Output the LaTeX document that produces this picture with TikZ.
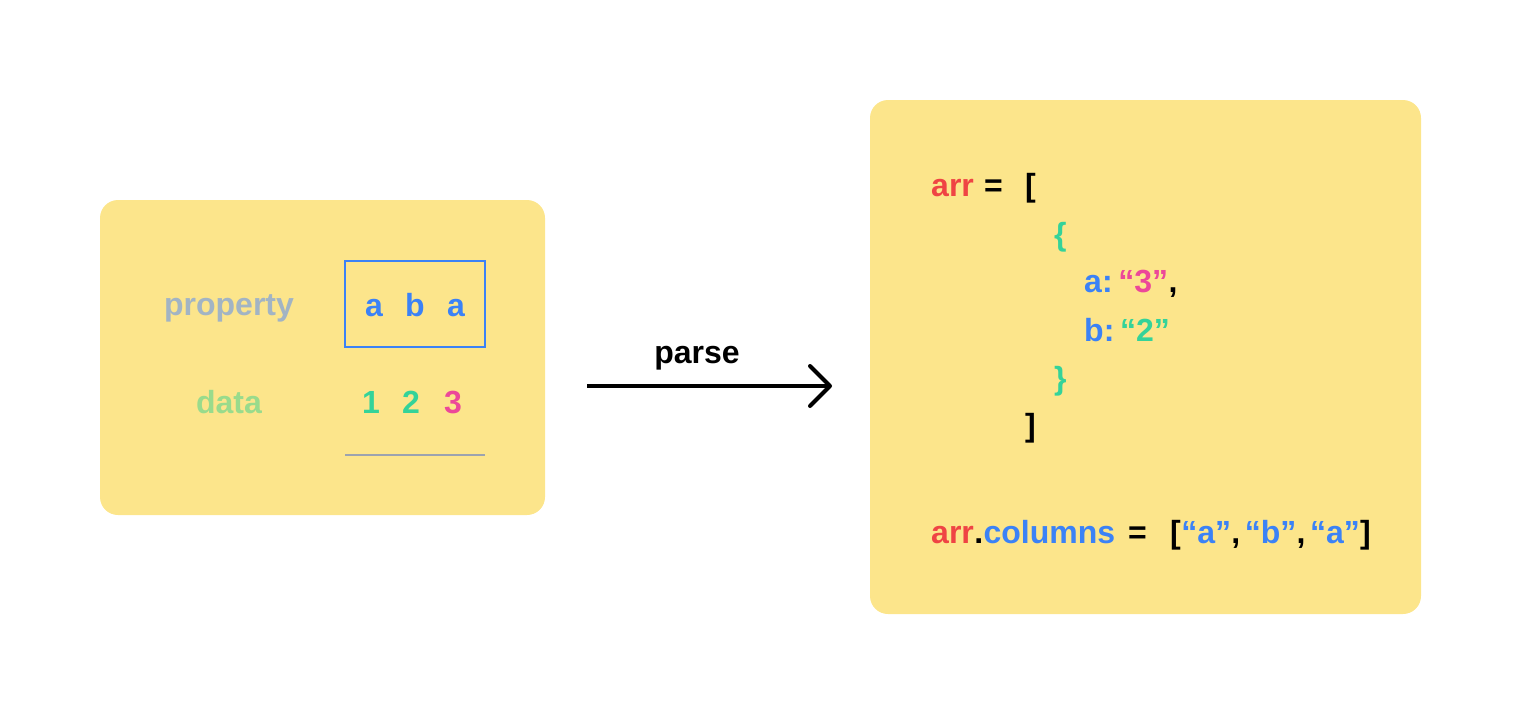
\documentclass[tikz,border=0pt]{standalone}
\usepackage{fontspec}
\setmainfont{Liberation Sans}
\usetikzlibrary{arrows.meta}
\definecolor{boxyellow}{HTML}{FCE58B}
\definecolor{keyblue}{HTML}{3B82F6}
\definecolor{varred}{HTML}{EF4444}
\definecolor{valpink}{HTML}{EC4899}
\definecolor{valgreen}{HTML}{34D399}
\definecolor{datagreen}{HTML}{99DB8C}
\definecolor{propgray}{HTML}{A2B4C4}
\definecolor{linegray}{HTML}{9CA3AF}
\tikzset{
  panel/.style={fill=boxyellow, rounded corners=18pt, inner sep=0pt},
  txt/.style={inner sep=0pt, font=\fontsize{32}{38}\selectfont\bfseries},
  code/.style={txt, anchor=base west},
}
\begin{document}
\begin{tikzpicture}[x=1pt,y=-1pt]
\useasboundingbox (0,0) rectangle (1522,716);
% left panel
\node[panel, minimum width=445pt, minimum height=315pt] (lbox) at (322.5,357.5){};
\node[txt, anchor=base, propgray] (prop) at (229,315){property};
\node[txt, anchor=base, datagreen] (data) at (229,413){data};
\node[txt, anchor=base, keyblue] (pa) at (374,316){a};
\node[txt, anchor=base, keyblue] (pb) at (415,316){b};
\node[txt, anchor=base, keyblue] (pc) at (456,316){a};
\draw[keyblue, line width=2pt] (345,261) rectangle (485,347);
\node[txt, anchor=base, valgreen] (d1) at (371,413){1};
\node[txt, anchor=base, valgreen] (d2) at (411,413){2};
\node[txt, anchor=base, valpink] (d3) at (453,413){3};
\coordinate (ul) at (345,455);
\coordinate (ur) at (485,455);
\draw[linegray, line width=2pt] (ul) -- (ur);

% arrow
\coordinate (astart) at (587,386);
\coordinate (aend) at (832,386);
\draw[line width=4pt, -{Straight Barb[length=20pt, width=40pt, line cap=round, line join=round]}] (astart) -- (aend);
\node[txt, anchor=base] (parse) at (697,363){parse};

% right panel
\node[panel, minimum width=551pt, minimum height=514pt] (rbox) at (1145.5,357){};
\node[code, varred] (arr) at (931,196){arr};
\node[code] (eq) at (984,196){=};
\node[code] (ob) at (1025,196){[};
\node[code, valgreen] (oc) at (1054,245){\{};
\node[code, keyblue] (ka) at (1084,292){a:};
\node[code, valpink] (va) at (ka.base east){\,“3”};
\node[code] (cm) at (va.base east){,};
\node[code, keyblue] (kb) at (1084,341){b:};
\node[code, valgreen] (vb) at (kb.base east){\,“2”};
\node[code, valgreen] (cc) at (1054,389){\}};
\node[code] (cb) at (1025,436){]};

\node[code, varred] (arr2) at (931,543){arr};
\node[code] (dot) at (arr2.base east){.};
\node[code, keyblue] (cols) at (dot.base east){columns};
\node[code] (eq2) at (1128,543){=};
\node[code] (ob2) at (1170,543){[};
\node[code, keyblue] (ca) at (ob2.base east){“a”};
\node[code] (c1) at (ca.base east){,};
\node[code, keyblue] (cbb) at (c1.base east){\kern4pt“b”};
\node[code] (c2) at (cbb.base east){,};
\node[code, keyblue] (cc2) at (c2.base east){\kern4pt“a”};
\node[code] (cb2) at (cc2.base east){]};
\end{tikzpicture}
\end{document}
